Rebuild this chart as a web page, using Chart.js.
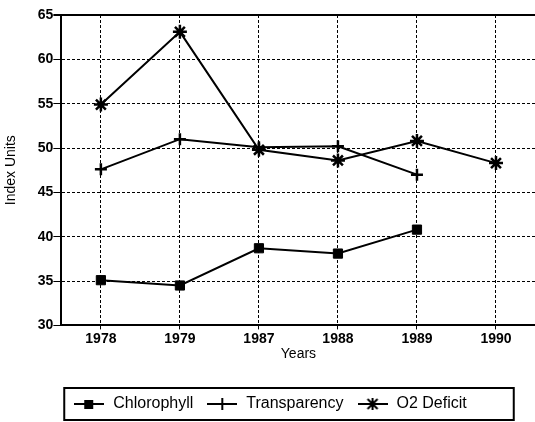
<!DOCTYPE html>
<html>
<head>
<meta charset="utf-8">
<script src="https://cdn.jsdelivr.net/npm/chart.js@4.4.1/dist/chart.umd.min.js"></script>
<style>
  html, body { margin: 0; padding: 0; background: #fff; overflow: hidden; }
  #wrap { width: 545px; height: 422px; position: relative; }
</style>
</head>
<body>
<div id="wrap"><canvas id="my-chart"></canvas></div>
<script>
'use strict';

let years = ['1978', '1979', '1987', '1988', '1989', '1990'];
let chlorophyll = [35.1, 34.5, 38.7, 38.1, 40.8, null];
let transparency = [47.6, 51.0, 50.1, 50.2, 47.0, null];
let o2Deficit = [54.9, 63.1, 49.8, 48.6, 50.8, 48.3];
let yTicks = [30, 35, 40, 45, 50, 55, 60, 65];

let canvasElement = document.getElementById('my-chart');

Chart.defaults.font.family = '"Liberation Sans", Arial, sans-serif';
Chart.defaults.color = '#000';

// little legend icon: line with the marker in the middle
function legendIcon(style) {
  let c = document.createElement('canvas');
  c.width = 30;
  c.height = 14;
  let g = c.getContext('2d');
  g.strokeStyle = '#000';
  g.fillStyle = '#000';
  g.lineWidth = 2;
  g.beginPath();
  g.moveTo(0, 7);
  g.lineTo(30, 7);
  g.stroke();
  if (style === 'rect') {
    g.fillRect(10, 3, 9, 9);
  } else if (style === 'cross') {
    g.beginPath();
    g.moveTo(15, 1);
    g.lineTo(15, 13);
    g.stroke();
  } else {
    g.beginPath();
    g.moveTo(15, 1); g.lineTo(15, 13);
    g.moveTo(10, 2); g.lineTo(20, 12);
    g.moveTo(20, 2); g.lineTo(10, 12);
    g.stroke();
  }
  return c;
}

// frame around the legend entries
let legendBox = {
  id: 'legendBox',
  afterDraw(chart) {
    let hits = chart.legend && chart.legend.legendHitBoxes;
    if (!hits || !hits.length) return;
    let first = hits[0];
    let last = hits[hits.length - 1];
    let mid = first.top + first.height / 2;
    let x0 = first.left - 9;
    let ctx = chart.ctx;
    ctx.save();
    ctx.strokeStyle = '#000';
    ctx.lineWidth = 2;
    ctx.strokeRect(x0, mid - 16, last.left + last.width + 47 - x0, 32);
    ctx.restore();
  }
};

function renderChart() {
  let chartObj = {
    type: 'line',
    data: {
      labels: years,
      datasets: [{
        label: 'Chlorophyll',
        data: chlorophyll,
        borderColor: '#000',
        backgroundColor: '#000',
        borderWidth: 2,
        pointStyle: 'rect',
        pointRadius: 6.5,
        pointBorderWidth: 1
      },
      {
        label: 'Transparency',
        data: transparency,
        borderColor: '#000',
        backgroundColor: '#000',
        borderWidth: 2,
        pointStyle: 'cross',
        pointRadius: 6,
        pointBorderWidth: 2.5
      },
      {
        label: 'O2 Deficit',
        data: o2Deficit,
        borderColor: '#000',
        backgroundColor: '#000',
        borderWidth: 2,
        pointStyle: 'star',
        pointRadius: 7,
        pointBorderWidth: 2.5
      }]
    },
    options: {
      responsive: true,
      maintainAspectRatio: false,
      animation: false,
      layout: { padding: { left: 3, right: 8, top: 15, bottom: 0 } },
      plugins: {
        tooltip: { enabled: false },
        legend: {
          position: 'bottom',
          labels: {
            font: { size: 16 },
            padding: 13,
            boxHeight: 14,
            pointStyleWidth: 32,
            usePointStyle: true,
            generateLabels(chart) {
              let styles = ['rect', 'cross', 'star'];
              return chart.data.datasets.map((ds, i) => ({
                text: ds.label,
                pointStyle: legendIcon(styles[i]),
                fillStyle: '#000',
                strokeStyle: '#000',
                lineWidth: 0,
                hidden: false,
                datasetIndex: i
              }));
            }
          }
        }
      },
      scales: {
        x: {
          offset: true,
          grid: {
            offset: false,
            color: '#000',
            lineWidth: 1,
            tickLength: 4
          },
          border: { display: true, color: '#000', width: 2, dash: [3, 2] },
          ticks: { font: { size: 14, weight: 'bold' }, padding: 1 },
          title: { display: true, text: 'Years', font: { size: 14 }, padding: { top: -2, bottom: 20 } }
        },
        y: {
          min: 30,
          max: 65,
          afterBuildTicks(axis) {
            axis.ticks = yTicks.map(v => ({ value: v }));
          },
          grid: {
            color: '#000',
            lineWidth: ctx => (ctx.tick && ctx.tick.value === 65 ? 2 : 1),
            tickLength: 8
          },
          border: {
            display: true,
            color: '#000',
            width: 2,
            dash: ctx => (ctx.tick && ctx.tick.value === 65 ? [] : [3, 2])
          },
          ticks: { font: { size: 14, weight: 'bold' }, padding: 0 },
          title: { display: true, text: 'Index Units', font: { size: 14 }, padding: { top: 0, bottom: 18 } }
        }
      }
    },
    plugins: [legendBox]
  };
  new Chart(canvasElement, chartObj);//eslint-disable-line
}

renderChart();
</script>
</body>
</html>
